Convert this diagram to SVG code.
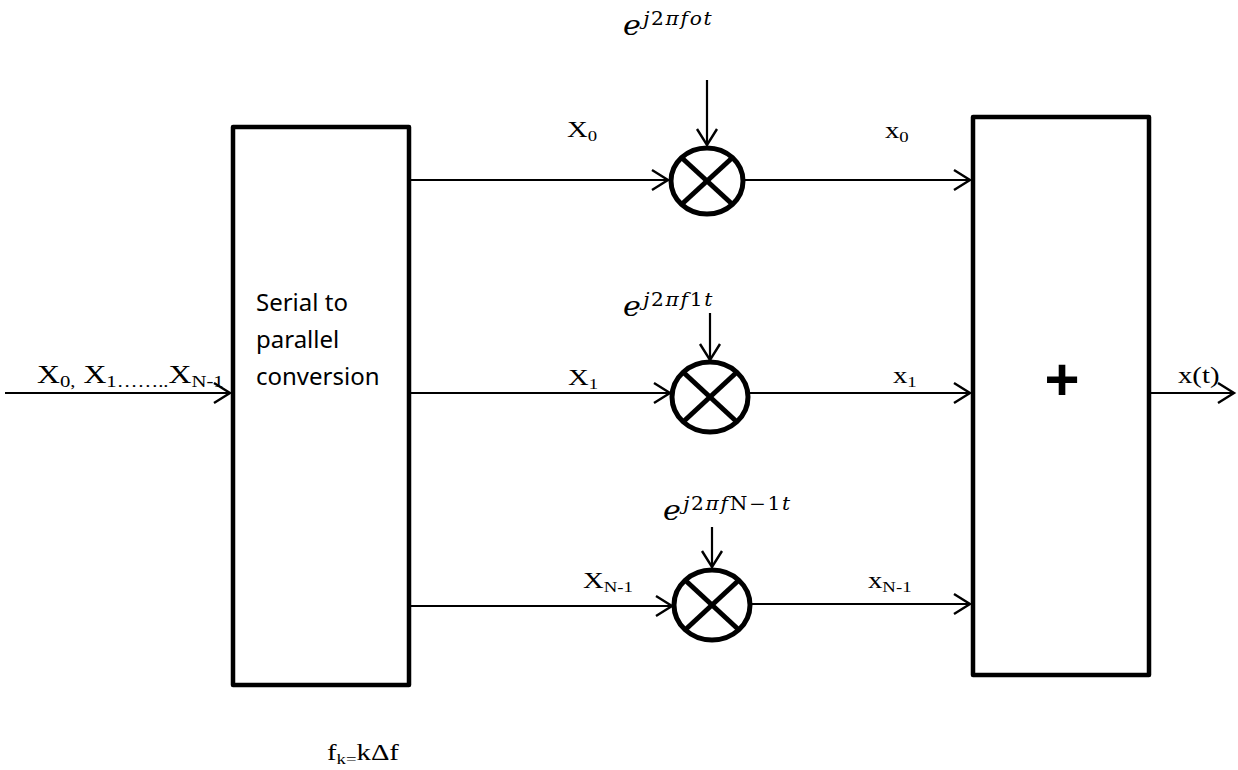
<svg xmlns="http://www.w3.org/2000/svg" width="1238" height="770" viewBox="0 0 1238 770">
  <defs>
    <marker id="arrow" markerUnits="userSpaceOnUse" markerWidth="22" markerHeight="26" refX="18" refY="12" orient="auto">
      <path d="M2,2 L18,12 L2,22" fill="none" stroke="#000" stroke-width="2.4" stroke-linejoin="miter"/>
    </marker>
    <style>
      .box { fill: #fff; stroke: #000; stroke-width: 4.5; stroke-linejoin: round; }
      .mix { fill: #fff; stroke: #000; stroke-width: 5; }
      .cross { stroke: #000; stroke-width: 5; }
      .wire { fill: none; stroke: #000; stroke-width: 2.2; marker-end: url(#arrow); }
      .tnr { font-family: "Liberation Serif", "Times New Roman", serif; font-size: 23px; fill: #000; }
      .big { font-size: 26px; }
      .sub { font-size: 15px; }
      .bsub { font-size: 17px; }
      .sans { font-family: "Noto Sans", "Open Sans", sans-serif; font-size: 24px; fill: #000; }
      .math { font-family: "DejaVu Serif", "Liberation Serif", serif; fill: #000; }
      .e { font-size: 27px; font-style: italic; }
      .sup { font-size: 18px; font-style: italic; letter-spacing: 1.5px; }
      .up { font-style: normal; }
      .plus { font-family: "Liberation Sans", Arial, sans-serif; font-size: 60px; font-weight: bold; fill: #000; }
    </style>
  </defs>

  <!-- connectors -->
  <g id="connectors">
    <line class="wire" x1="5" y1="393" x2="230" y2="393"/>
    <line class="wire" x1="411" y1="180" x2="668" y2="180"/>
    <line class="wire" x1="411" y1="393" x2="670" y2="393"/>
    <line class="wire" x1="411" y1="606" x2="672" y2="606"/>
    <line class="wire" x1="744" y1="180" x2="970" y2="180"/>
    <line class="wire" x1="748" y1="393" x2="970" y2="393"/>
    <line class="wire" x1="750" y1="604" x2="970" y2="604"/>
    <line class="wire" x1="1151" y1="393" x2="1234" y2="393"/>
    <line class="wire" x1="707" y1="80" x2="707" y2="145"/>
    <line class="wire" x1="710" y1="313" x2="710" y2="360"/>
    <line class="wire" x1="712" y1="527" x2="712" y2="567"/>
  </g>

  <!-- serial to parallel converter -->
  <g id="s2p">
    <rect class="box" x="233" y="127" width="176" height="558"/>
    <text class="sans" x="256" y="311">Serial to</text>
    <text class="sans" x="256" y="348">parallel</text>
    <text class="sans" x="256" y="385">conversion</text>
  </g>

  <!-- summing block -->
  <g id="sum">
    <rect class="box" x="973" y="117" width="176" height="558"/>
    <text class="plus" x="1062" y="400" text-anchor="middle">+</text>
  </g>

  <!-- mixers -->
  <g id="mixer0">
    <ellipse class="mix" cx="707" cy="181" rx="36" ry="33"/>
    <line class="cross" x1="682" y1="158" x2="732" y2="204"/>
    <line class="cross" x1="732" y1="158" x2="682" y2="204"/>
  </g>
  <g id="mixer1">
    <ellipse class="mix" cx="710" cy="397" rx="38" ry="35"/>
    <line class="cross" x1="683" y1="372" x2="737" y2="422"/>
    <line class="cross" x1="737" y1="372" x2="683" y2="422"/>
  </g>
  <g id="mixerN">
    <ellipse class="mix" cx="712" cy="605" rx="38" ry="35"/>
    <line class="cross" x1="685" y1="580" x2="739" y2="630"/>
    <line class="cross" x1="739" y1="580" x2="685" y2="630"/>
  </g>

  <!-- carrier labels -->
  <g id="carrier0">
    <text class="math" transform="translate(623,35) scale(1.12,1)"><tspan class="e">e</tspan><tspan class="sup" dx="2" dy="-10">j<tspan class="up">2</tspan>πfot</tspan></text>
  </g>
  <g id="carrier1">
    <text class="math" transform="translate(623,316) scale(1.12,1)"><tspan class="e">e</tspan><tspan class="sup" dx="2" dy="-10">j<tspan class="up">2</tspan>πf<tspan class="up">1</tspan>t</tspan></text>
  </g>
  <g id="carrierN">
    <text class="math" transform="translate(663,520) scale(1.12,1)"><tspan class="e">e</tspan><tspan class="sup" dx="2" dy="-10">j<tspan class="up">2</tspan>πf<tspan class="up">N−1</tspan>t</tspan></text>
  </g>

  <!-- signal labels (slightly widened glyphs) -->
  <g id="labels">
    <text class="tnr big" transform="translate(37,383) scale(1.22,1)">X<tspan class="bsub" dy="4">0,</tspan><tspan dy="-4"> X</tspan><tspan class="bsub" dy="4">1……..</tspan><tspan dy="-4">X</tspan><tspan class="bsub" dy="4">N-1</tspan></text>
    <text class="tnr" transform="translate(567,137) scale(1.25,1)">X<tspan class="sub" dy="4">0</tspan></text>
    <text class="tnr" transform="translate(568,385) scale(1.25,1)">X<tspan class="sub" dy="4">1</tspan></text>
    <text class="tnr" transform="translate(583,588) scale(1.25,1)">X<tspan class="sub" dy="4">N-1</tspan></text>
    <text class="tnr" transform="translate(885,138) scale(1.25,1)">x<tspan class="sub" dy="4">0</tspan></text>
    <text class="tnr" transform="translate(893,383) scale(1.25,1)">x<tspan class="sub" dy="4">1</tspan></text>
    <text class="tnr" transform="translate(868,588) scale(1.25,1)">x<tspan class="sub" dy="4">N-1</tspan></text>
    <text class="tnr" transform="translate(1178,383) scale(1.25,1)">x(t)</text>
    <text class="tnr" transform="translate(327,760) scale(1.25,1)">f<tspan class="sub" dy="4">k=</tspan><tspan dy="-4">kΔf</tspan></text>
  </g>
</svg>
